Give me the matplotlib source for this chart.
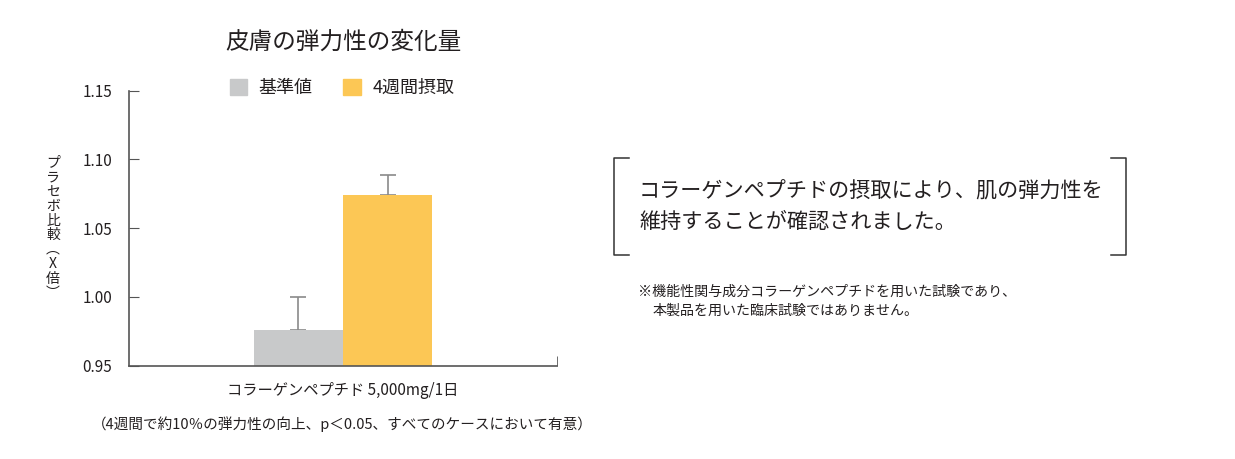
import matplotlib.pyplot as plt
from matplotlib.patches import Patch
from matplotlib.lines import Line2D

plt.rcParams['font.family'] = ['Noto Sans CJK JP', 'DejaVu Sans']

# data
groups = ['基準値', '4週間摂取']
values = [0.976, 1.074]
errors = [0.024, 0.015]
colors = ['#c8c9ca', '#fcc755']
category = 'コラーゲンペプチド 5,000mg/1日'
yticks = [0.95, 1.00, 1.05, 1.10, 1.15]

W, H = 1235, 459
fig = plt.figure(figsize=(W / 100, H / 100), dpi=100)
ax = fig.add_axes([129 / W, 1 - 365.6 / H, (557 - 129) / W, (365.6 - 90.7) / H])

txt = '#231f20'
axc = '#555555'
bw = 0.416
xs = [-bw / 2, bw / 2]
for x, v, e, c in zip(xs, values, errors, colors):
    ax.bar(x, v - 0.95, bottom=0.95, width=bw, color=c, zorder=2)
    ax.errorbar(x, v, yerr=[[0], [e]], ecolor='#8a8a8a', elinewidth=1.2,
                capsize=5.5, capthick=1.2, fmt='none', zorder=1)

ax.set_xlim(-1, 1)
ax.set_ylim(0.95, 1.15)
ax.set_yticks(yticks)
ax.set_yticklabels([f'{t:.2f}' for t in yticks], fontsize=11, color=txt)
ax.tick_params(axis='y', direction='in', length=7, color=axc, pad=12)
ax.set_xticks([0])
ax.set_xticklabels([category], fontsize=11, color=txt)
ax.tick_params(axis='x', length=0, pad=12)
ax.set_xticks([1], minor=True)
ax.tick_params(axis='x', which='minor', direction='in', length=7, color=axc)
for s in ['top', 'right']:
    ax.spines[s].set_visible(False)
for s in ['left', 'bottom']:
    ax.spines[s].set_color(axc)
    ax.spines[s].set_linewidth(1.2)

# vertical y label
ylab = 'プラセボ比較︵X倍︶'
fig.text(53 / W, 1 - 228 / H, '\n'.join(ylab), fontsize=10, color=txt,
         ha='center', va='center', linespacing=1.05)

fig.text(343 / W, 1 - 42 / H, '皮膚の弾力性の変化量', fontsize=17, color=txt,
         ha='center', va='center')

handles = [Patch(color=c, label=g) for c, g in zip(colors, groups)]
fig.legend(handles=handles, loc='center', bbox_to_anchor=(342 / W, 1 - 88 / H),
           ncol=2, frameon=False, fontsize=13, handlelength=0.95, handleheight=0.95,
           columnspacing=1.7, handletextpad=0.65, labelcolor=txt)

fig.text(342 / W, 1 - 424 / H,
         '（4週間で約10％の弾力性の向上、p＜0.05、すべてのケースにおいて有意）',
         fontsize=10.5, color=txt, ha='center', va='center')

# bracket box
lc = '#333333'
top, bot = 1 - 157.5 / H, 1 - 255 / H
l0, l1 = 613.5 / W, 629 / W
r0, r1 = 1126 / W, 1111 / W
for xa, xb in [(l0, l1), (r0, r1)]:
    fig.add_artist(Line2D([xb, xa, xa, xb], [top, top, bot, bot],
                          color=lc, lw=1.1, transform=fig.transFigure))

fig.text(639 / W, 1 - 192 / H, 'コラーゲンペプチドの摂取により、肌の弾力性を',
         fontsize=15.2, color=txt, ha='left', va='center')
fig.text(639 / W, 1 - 222 / H, '維持することが確認されました。',
         fontsize=15.2, color=txt, ha='left', va='center')

fig.text(638 / W, 1 - 292 / H, '※機能性関与成分コラーゲンペプチドを用いた試験であり、',
         fontsize=10.1, color=txt, ha='left', va='center')
fig.text(653 / W, 1 - 311 / H, '本製品を用いた臨床試験ではありません。',
         fontsize=10.1, color=txt, ha='left', va='center')

fig.savefig('out.png', dpi=100, facecolor='white')
